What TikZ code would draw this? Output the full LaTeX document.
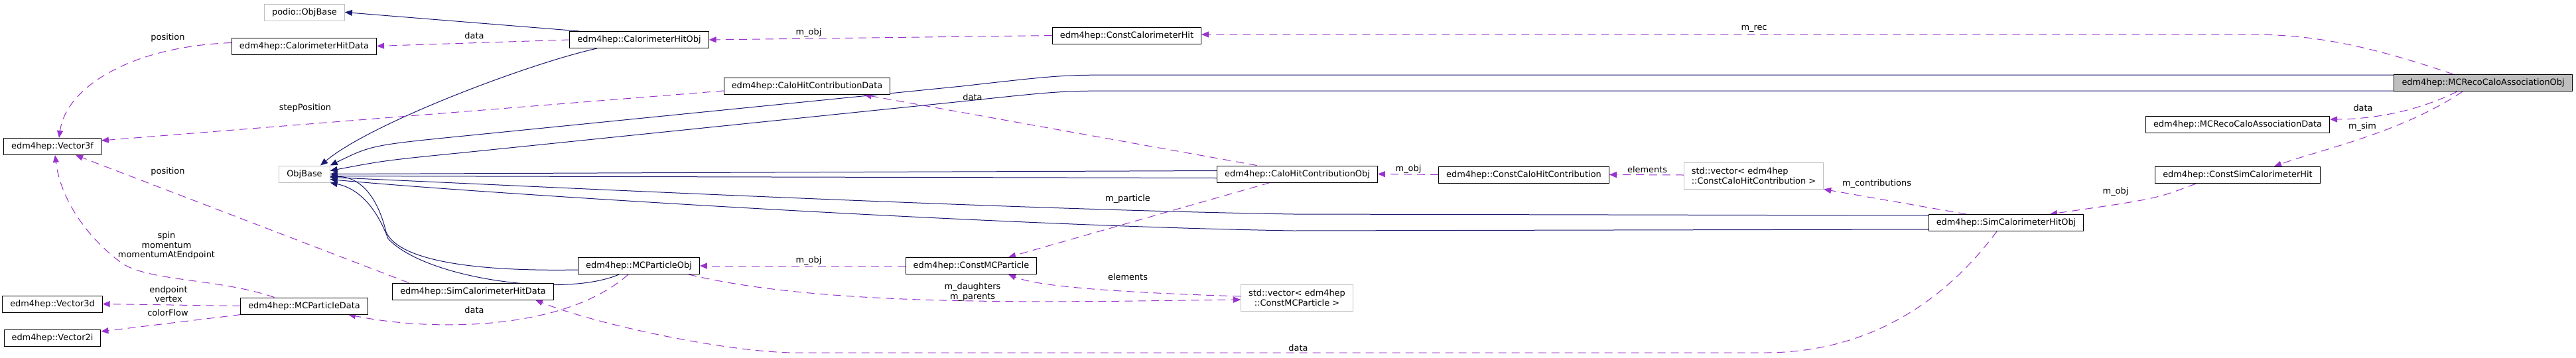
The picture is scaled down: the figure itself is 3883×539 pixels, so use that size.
\documentclass[tikz,border=0pt]{standalone}
\usepackage{fontspec}
\setmainfont{DejaVu Sans}
\usetikzlibrary{arrows.meta, backgrounds}
\definecolor{MidBlue}{HTML}{191970}
\definecolor{Orchid}{HTML}{9A32CD}
\definecolor{Grey75}{HTML}{BFBFBF}

\begin{document}
\begin{tikzpicture}[
    x=1pt, y=-1pt,
    every node/.style={font=\fontsize{12.9}{14.5}\selectfont, inner sep=0pt},
    cls/.style={draw=black, fill=white, line width=1pt, inner xsep=11.5pt, inner ysep=3pt, minimum height=25pt, align=center},
    ext/.style={cls, draw=Grey75},
    focus/.style={cls, fill=Grey75},
    inh/.style={-{Triangle[length=11pt,width=9pt]}, line width=1pt, color=MidBlue},
    usedash/.style={-{Triangle[length=11pt,width=9pt]}, line width=1pt, color=Orchid, dash pattern=on 12pt off 8pt},
    lbl/.style={align=center}
]
\useasboundingbox (0,0) rectangle (3883,539);

% Classes
\node[ext] (podioBase) at (459,18.5) {podio::ObjBase};
\node[cls] (caloHitData) at (458.5,69.5) {edm4hep::CalorimeterHitData};
\node[cls] (caloHitObj) at (963.5,60) {edm4hep::CalorimeterHitObj};
\node[cls] (constCaloHit) at (1698.5,53.5) {edm4hep::ConstCalorimeterHit};
\node[focus] (assocObj) at (3743,125) {edm4hep::MCRecoCaloAssociationObj};
\node[cls] (contribData) at (1216.5,130) {edm4hep::CaloHitContributionData};
\node[cls] (vecThreeF) at (79,221) {edm4hep::Vector3f};
\node[ext] (objBase) at (459,262.5) {ObjBase};
\node[cls] (assocData) at (3373,188) {edm4hep::MCRecoCaloAssociationData};
\node[cls] (contribObj) at (1955.5,262.5) {edm4hep::CaloHitContributionObj};
\node[cls] (constContrib) at (2297,263.5) {edm4hep::ConstCaloHitContribution};
\node[ext, minimum height=40pt, align=left] (contribVec) at (2643.5,265) {std::vector< edm4hep\\::ConstCaloHitContribution >};
\node[cls] (constSimHit) at (3373,264) {edm4hep::ConstSimCalorimeterHit};
\node[cls] (simHitObj) at (3024,336) {edm4hep::SimCalorimeterHitObj};
\node[cls] (particleObj) at (963,401) {edm4hep::MCParticleObj};
\node[cls] (constParticle) at (1464,401) {edm4hep::ConstMCParticle};
\node[cls] (simHitData) at (713,439.5) {edm4hep::SimCalorimeterHitData};
\node[ext, minimum height=40pt] (particleVec) at (1955,449) {std::vector< edm4hep\\::ConstMCParticle >};
\node[cls] (vecThreeD) at (79,458.5) {edm4hep::Vector3d};
\node[cls] (particleData) at (458.5,461.5) {edm4hep::MCParticleData};
\node[cls] (vecTwoI) at (79,509.5) {edm4hep::Vector2i};

% Edge labels
\node[lbl] (lCaloPos) at (253,57) {position};
\node[lbl] (lStepPos) at (460,163) {stepPosition};
\node[lbl] (lSimPos) at (253,259) {position};
\node[lbl] (lParticleVecs) at (251,370.5) {spin\\momentum\\momentumAtEndpoint};
\node[lbl] (lPoints) at (254,443.5) {endpoint\\vertex};
\node[lbl] (lColor) at (253,472) {colorFlow};
\node[lbl] (lCaloData) at (715,54) {data};
\node[lbl] (lCaloObj) at (1219,49) {m\_obj};
\node[lbl] (lRec) at (2644,43) {m\_rec};
\node[lbl] (lContribData) at (1466,147) {data};
\node[lbl] (lContribObj) at (2123,255) {m\_obj};
\node[lbl] (lContribElems) at (2483,256) {elements};
\node[lbl] (lContribs) at (2829,277) {m\_contributions};
\node[lbl] (lSimObj) at (3189,289) {m\_obj};
\node[lbl] (lAssocData) at (3562,163) {data};
\node[lbl] (lSim) at (3561,191) {m\_sim};
\node[lbl] (lParticle) at (1700,300) {m\_particle};
\node[lbl] (lParticleObj) at (1219,393) {m\_obj};
\node[lbl] (lParticleElems) at (1700,418) {elements};
\node[lbl] (lFamily) at (1466,440.5) {m\_daughters\\m\_parents};
\node[lbl] (lParticleData) at (715,468) {data};
\node[lbl] (lSimData) at (1957,525) {data};

\begin{scope}[on background layer]
\fill[white] (0,0) rectangle (3883,539);

% Inheritance
\draw[inh] ([xshift=15pt]caloHitObj.north west) -- (podioBase.east);
\draw[inh] ([xshift=-63.5pt]caloHitObj.south) .. controls (800,95) and (560,185) .. ([xshift=24pt]objBase.north);
\draw[inh] ([yshift=12pt]assocObj.west) -- (1700,113) .. controls (1600,113) .. (1450,130) -- (700,205) .. controls (560,219) .. (objBase.north east);
\draw[inh] ([yshift=-12pt]assocObj.west) -- (1700,137) .. controls (1600,137) .. (1450,153) -- (700,230) .. controls (580,242) .. ([yshift=5pt]objBase.east);
\draw[inh] ([yshift=5pt]contribObj.west) -- (objBase.east);
\draw[inh] ([yshift=-6pt]contribObj.west) -- ([yshift=-3pt]objBase.east);
\draw[inh] ([yshift=11pt]simHitObj.west) -- (1950,323) .. controls (1500,316) and (700,276) .. ([yshift=-5pt]objBase.east);
\draw[inh] ([yshift=-10pt]simHitObj.west) -- (1950,348) .. controls (1500,341) and (700,290) .. ([yshift=-8pt]objBase.east);
\draw[inh] ([yshift=-6pt]particleObj.west) .. controls (700,410) and (600,390) .. (582,350) .. controls (570,300) and (545,266) .. ([yshift=-4pt]objBase.east);
\draw[inh] ([xshift=-30pt]particleObj.south) .. controls (850,450) and (640,420) .. (585,360) .. controls (570,320) and (545,285) .. (objBase.south east);

% Usage
\draw[usedash] (caloHitObj.west) -- (caloHitData.east);
\draw[usedash] (constCaloHit.west) -- (caloHitObj.east);
\draw[usedash] ([xshift=-45pt]assocObj.north) .. controls (3560,65) and (3480,52) .. (3390,52) -- ([yshift=1.5pt]constCaloHit.east);
\draw[usedash] ([yshift=5pt]caloHitData.west) .. controls (200,70) and (100,130) .. ([xshift=10pt]vecThreeF.north);
\draw[usedash] ([yshift=-7pt]contribData.west) -- ([yshift=9pt]vecThreeF.east);
\draw[usedash] ([xshift=-61pt]contribObj.north) -- ([xshift=86pt]contribData.south);
\draw[usedash] (constContrib.west) -- (contribObj.east);
\draw[usedash] ([yshift=1pt]contribVec.west) -- (constContrib.east);
\draw[usedash] ([xshift=-60pt]simHitObj.north) -- (contribVec.south east);
\draw[usedash] ([xshift=-63pt]constSimHit.south) .. controls (3250,300) .. ([xshift=66pt]simHitObj.north);
\draw[usedash] ([xshift=-39pt]assocObj.south) .. controls (3640,170) and (3570,180) .. ([yshift=8pt]assocData.east);
\draw[usedash] ([xshift=-31pt]assocObj.south) .. controls (3620,200) and (3500,225) .. ([xshift=55pt]constSimHit.north);
\draw[usedash] ([xshift=-41pt]contribObj.south) -- ([xshift=56pt]constParticle.north);
\draw[usedash] (constParticle.west) -- (particleObj.east);
\draw[usedash] ([yshift=2pt]particleVec.west) .. controls (1650,440) and (1560,430) .. ([xshift=56pt]constParticle.south);
\draw[usedash] ([xshift=75pt]particleObj.south) .. controls (1250,465) and (1600,455) .. ([yshift=-3pt]particleVec.west);
\draw[usedash] ([xshift=-16pt]particleObj.south) .. controls (850,500) and (650,500) .. ([xshift=66.5pt]particleData.south);
\draw[usedash] ([xshift=-14pt]simHitObj.south) .. controls (2920,470) and (2800,532) .. (2660,532) -- (1200,532) .. controls (1100,532) and (900,490) .. ([xshift=94pt]simHitData.south);
\draw[usedash] ([xshift=-45pt]particleData.north) .. controls (330,420) and (230,425) .. (185,398) .. controls (120,350) and (90,290) .. ([xshift=4pt]vecThreeF.south);
\draw[usedash] (particleData.west) -- (vecThreeD.east);
\draw[usedash] ([xshift=1pt]particleData.south west) -- ([yshift=9.5pt]vecTwoI.east);
\draw[usedash] ([xshift=-97pt]simHitData.north) -- ([xshift=35pt]vecThreeF.south);
\end{scope}

\end{tikzpicture}
\end{document}
